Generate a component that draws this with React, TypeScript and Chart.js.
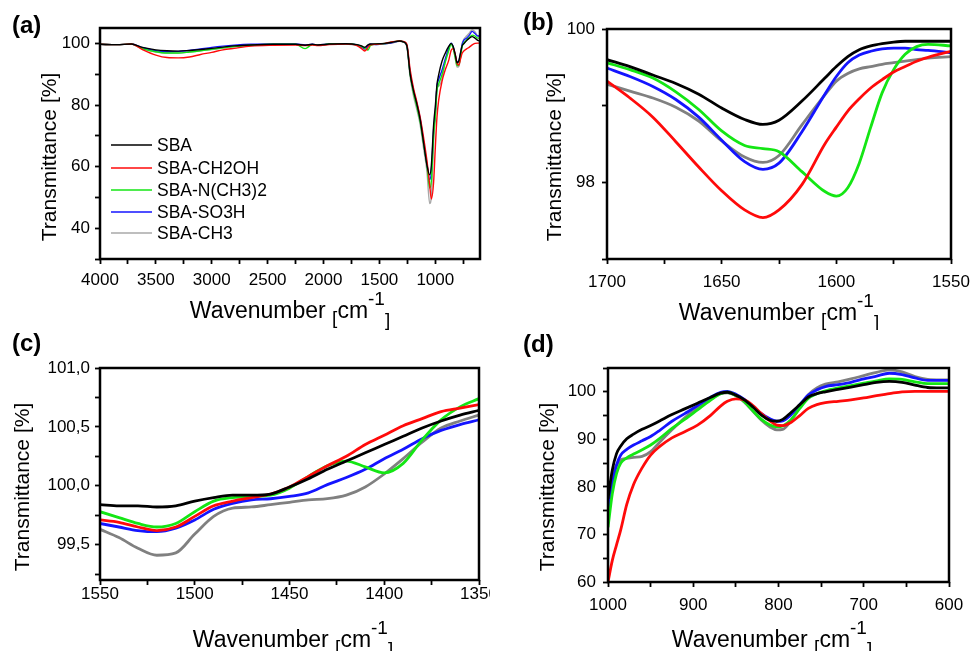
import React, { useEffect, useRef } from 'react';
import { Chart, registerables } from 'chart.js';

Chart.register(...registerables);

const FONT = '"Liberation Sans", Arial, Helvetica, sans-serif';

const SERIES = ['SBA', 'SBA-CH2OH', 'SBA-N(CH3)2', 'SBA-SO3H', 'SBA-CH3'];
const COLORS = ['#000000', '#ff0a0a', '#14e614', '#1414ff', '#808080'];
const COLORS_A = ['#000000', '#ff0a0a', '#14e614', '#1414ff', '#a8a8a8'];

// ---------- Panel (a): full spectrum ----------
const A_WAVENUMBER = [4000, 3850, 3720, 3620, 3500, 3400, 3300, 3200, 3100, 3000, 2900, 2800, 2650, 2450, 2250, 2165, 2100, 2050, 1950, 1800, 1700, 1660, 1632, 1615, 1602, 1580, 1530, 1450, 1380, 1320, 1285, 1255, 1225, 1195, 1165, 1135, 1105, 1075, 1050, 1035, 1015, 1000, 985, 970, 940, 910, 880, 858, 840, 822, 805, 790, 775, 760, 745, 720, 695, 670, 645, 620, 600];
const A_SBA = [99.7, 99.6, 99.8, 98.7, 97.9, 97.6, 97.5, 97.7, 98.0, 98.4, 98.8, 99.2, 99.5, 99.7, 99.7, 99.4, 99.7, 99.5, 99.8, 99.9, 99.6, 99.2, 98.75, 99.1, 99.5, 99.8, 99.85, 100.0, 100.4, 100.8, 100.5, 99.3, 90.0, 84.6, 80.3, 75.2, 67.8, 60.5, 57.3, 60.5, 73.6, 79.5, 86.6, 89.8, 94.2, 96.9, 99.0, 100.0, 99.0, 96.5, 93.7, 94.3, 96.8, 99.2, 99.9, 100.9, 101.7, 102.2, 101.7, 101.0, 100.8];
const A_CH2OH = [99.7, 99.6, 99.8, 98.0, 96.2, 95.4, 95.3, 95.6, 96.4, 97.1, 97.9, 98.4, 99.1, 99.4, 99.5, 99.3, 99.5, 99.3, 99.6, 99.8, 99.3, 98.3, 97.55, 98.0, 98.7, 99.5, 99.7, 100.0, 100.55, 100.8, 100.6, 99.8, 91.5, 85.5, 81.0, 76.0, 69.5, 62.0, 54.0, 49.5, 55.0, 66.0, 76.0, 81.5, 87.7, 91.5, 94.5, 97.8, 98.3, 96.5, 93.5, 93.0, 94.8, 96.8, 97.5, 98.2, 98.8, 99.5, 100.0, 100.1, 100.1];
const A_NCH32 = [99.7, 99.6, 99.8, 98.3, 97.3, 96.9, 96.9, 97.2, 97.6, 98.1, 98.6, 99.0, 99.4, 99.7, 99.7, 98.3, 99.6, 99.4, 99.8, 99.9, 99.5, 99.0, 98.45, 98.2, 97.82, 99.3, 99.8, 99.95, 100.5, 100.8, 100.5, 99.4, 90.0, 84.0, 79.5, 74.5, 67.5, 60.5, 53.0, 55.5, 70.0, 76.0, 84.5, 86.8, 89.8, 94.0, 97.6, 99.8, 98.4, 95.5, 92.8, 93.0, 95.5, 98.9, 100.1, 101.1, 101.9, 102.7, 102.4, 101.7, 101.7];
const A_SO3H = [99.7, 99.6, 99.8, 98.6, 97.6, 97.3, 97.4, 97.7, 98.2, 98.7, 99.1, 99.4, 99.7, 99.8, 99.8, 99.5, 99.7, 99.5, 99.8, 99.9, 99.5, 98.9, 98.17, 98.7, 99.3, 99.7, 99.65, 99.9, 100.3, 100.75, 100.5, 99.4, 90.5, 84.8, 80.5, 75.5, 68.3, 61.0, 55.8, 58.5, 72.0, 77.0, 86.0, 88.2, 91.3, 95.0, 98.5, 100.1, 98.9, 96.2, 94.0, 94.2, 96.5, 99.6, 101.0, 101.7, 102.7, 103.9, 103.2, 102.4, 102.4];
const A_CH3 = [99.7, 99.6, 99.8, 98.2, 97.2, 96.9, 96.9, 97.2, 97.6, 98.0, 98.5, 98.9, 99.3, 99.6, 99.7, 99.4, 99.6, 99.4, 99.7, 99.8, 99.3, 98.7, 98.25, 98.8, 99.1, 99.5, 99.6, 99.85, 100.2, 100.7, 100.5, 99.0, 89.0, 83.0, 78.5, 73.5, 66.0, 58.5, 48.0, 50.5, 68.0, 78.0, 85.6, 86.1, 88.5, 94.3, 98.3, 99.8, 98.5, 95.3, 92.3, 92.5, 95.3, 99.9, 101.3, 102.4, 103.4, 104.4, 103.8, 102.5, 102.5];
const A_X_TICKS = [4000, 3750, 3500, 3250, 3000, 2750, 2500, 2250, 2000, 1750, 1500, 1250, 1000, 750];
const A_X_LABELS = [4000, 3500, 3000, 2500, 2000, 1500, 1000];
const A_Y_TICKS = [30, 40, 50, 60, 70, 80, 90, 100];
const A_Y_LABELS = [40, 60, 80, 100];

// ---------- Panel (b): 1700-1550 ----------
const B_WAVENUMBER = [1700, 1690, 1680, 1670, 1660, 1650, 1640, 1632, 1625, 1615, 1605, 1600, 1595, 1590, 1585, 1580, 1575, 1570, 1565, 1560, 1550];
const B_SBA = [99.60, 99.51, 99.40, 99.29, 99.15, 98.97, 98.82, 98.755, 98.81, 99.06, 99.36, 99.51, 99.64, 99.73, 99.78, 99.81, 99.83, 99.84, 99.84, 99.84, 99.84];
const B_CH2OH = [99.32, 99.10, 98.85, 98.53, 98.20, 97.89, 97.64, 97.54, 97.64, 97.97, 98.50, 98.72, 98.93, 99.09, 99.23, 99.34, 99.44, 99.51, 99.58, 99.63, 99.71];
const B_NCH32 = [99.56, 99.47, 99.36, 99.18, 98.95, 98.67, 98.48, 98.44, 98.40, 98.14, 97.88, 97.82, 97.93, 98.25, 98.72, 99.17, 99.47, 99.67, 99.77, 99.80, 99.78];
const B_SO3H = [99.49, 99.38, 99.25, 99.08, 98.85, 98.55, 98.27, 98.17, 98.25, 98.66, 99.15, 99.38, 99.56, 99.66, 99.71, 99.74, 99.75, 99.75, 99.73, 99.72, 99.69];
const B_CH3 = [99.28, 99.19, 99.10, 98.98, 98.80, 98.54, 98.33, 98.26, 98.35, 98.75, 99.14, 99.32, 99.42, 99.48, 99.51, 99.54, 99.56, 99.58, 99.60, 99.62, 99.64];
const B_X_TICKS = [1700, 1675, 1650, 1625, 1600, 1575, 1550];
const B_X_LABELS = [1700, 1650, 1600, 1550];
const B_Y_TICKS = [97, 98, 99, 100];
const B_Y_LABELS = [98, 100];

// ---------- Panel (c): 1550-1350 ----------
const C_WAVENUMBER = [1550, 1540, 1530, 1520, 1510, 1500, 1490, 1480, 1470, 1460, 1450, 1440, 1430, 1420, 1410, 1400, 1390, 1380, 1370, 1360, 1350];
const C_SBA = [99.84, 99.83, 99.83, 99.82, 99.83, 99.87, 99.90, 99.92, 99.92, 99.93, 99.99, 100.06, 100.14, 100.21, 100.28, 100.35, 100.42, 100.49, 100.55, 100.60, 100.64];
const C_CH2OH = [99.71, 99.69, 99.65, 99.62, 99.65, 99.74, 99.83, 99.87, 99.90, 99.93, 99.99, 100.08, 100.17, 100.25, 100.35, 100.43, 100.51, 100.57, 100.63, 100.66, 100.69];
const C_NCH32 = [99.78, 99.73, 99.68, 99.65, 99.68, 99.78, 99.87, 99.90, 99.91, 99.92, 99.98, 100.08, 100.17, 100.21, 100.16, 100.11, 100.19, 100.39, 100.56, 100.67, 100.74];
const C_SO3H = [99.68, 99.65, 99.62, 99.61, 99.64, 99.71, 99.80, 99.85, 99.88, 99.89, 99.91, 99.94, 100.01, 100.07, 100.14, 100.23, 100.31, 100.40, 100.47, 100.52, 100.56];
const C_CH3 = [99.63, 99.56, 99.47, 99.41, 99.43, 99.59, 99.74, 99.81, 99.82, 99.84, 99.86, 99.88, 99.89, 99.92, 99.99, 100.10, 100.23, 100.37, 100.49, 100.55, 100.60];
const C_X_TICKS = [1550, 1525, 1500, 1475, 1450, 1425, 1400, 1375, 1350];
const C_X_LABELS = [1550, 1500, 1450, 1400, 1350];
const C_Y_TICKS = [99.25, 99.5, 99.75, 100, 100.25, 100.5, 100.75, 101];
const C_Y_LABELS = [99.5, 100, 100.5, 101];

// ---------- Panel (d): 1000-600 ----------
const D_WAVENUMBER = [1000, 995, 990, 985, 978, 970, 960, 950, 940, 925, 910, 895, 880, 868, 860, 850, 840, 830, 820, 810, 802, 795, 785, 775, 765, 755, 745, 730, 715, 700, 685, 670, 655, 640, 625, 610, 600];
const D_SBA = [77.5, 83.5, 87.0, 88.6, 90.1, 91.1, 92.1, 92.9, 93.8, 95.2, 96.4, 97.6, 98.8, 99.7, 99.9, 99.3, 98.3, 96.8, 95.1, 94.0, 93.8, 94.2, 95.7, 97.3, 98.9, 99.6, 100.0, 100.5, 101.0, 101.5, 102.0, 102.2, 102.0, 101.4, 100.9, 100.8, 100.8];
const D_CH2OH = [60.0, 64.5, 67.8, 71.0, 76.3, 80.5, 84.0, 86.7, 88.4, 90.3, 91.6, 93.0, 95.0, 97.0, 98.0, 98.5, 98.3, 97.1, 95.4, 93.9, 93.0, 92.9, 93.6, 95.0, 96.5, 97.3, 97.7, 98.0, 98.3, 98.7, 99.2, 99.6, 100.0, 100.1, 100.1, 100.1, 100.1];
const D_NCH32 = [71.5, 78.5, 82.8, 85.0, 86.1, 86.9, 87.8, 88.8, 90.1, 92.3, 94.2, 96.2, 98.2, 99.6, 99.9, 99.2, 97.9, 96.0, 94.2, 93.0, 92.6, 92.8, 94.2, 96.5, 98.6, 99.6, 100.2, 100.8, 101.3, 101.8, 102.3, 102.7, 102.6, 102.1, 101.7, 101.7, 101.7];
const D_SO3H = [73.5, 80.5, 84.6, 86.7, 87.9, 88.8, 89.7, 90.6, 91.8, 93.8, 95.4, 97.1, 98.8, 99.9, 100.1, 99.5, 98.4, 96.9, 95.4, 94.3, 93.8, 93.9, 95.2, 97.3, 99.3, 100.4, 101.1, 101.5, 102.0, 102.7, 103.3, 103.9, 103.6, 102.9, 102.4, 102.4, 102.4];
const D_CH3 = [77.5, 82.3, 84.5, 85.7, 86.0, 86.2, 86.4, 87.4, 89.3, 92.0, 94.5, 96.6, 98.4, 99.6, 99.8, 99.2, 97.8, 95.9, 94.0, 92.6, 92.0, 92.1, 94.0, 96.8, 99.4, 100.8, 101.6, 102.1, 102.7, 103.4, 104.1, 104.6, 104.2, 103.2, 102.6, 102.5, 102.5];
const D_X_TICKS = [1000, 950, 900, 850, 800, 750, 700, 650, 600];
const D_X_LABELS = [1000, 900, 800, 700, 600];
const D_Y_TICKS = [60, 65, 70, 75, 80, 85, 90, 95, 100, 105];
const D_Y_LABELS = [60, 70, 80, 90, 100];

type Spec = {
  id: string;
  label: string;
  left: number; top: number; boxW: number; canvasW: number; h: number;
  area: { l: number; r: number; t: number; b: number };
  xs: number[]; ys: number[][]; colors: string[]; lineW: number;
  xMin: number; xMax: number; yMin: number; yMax: number;
  xTicks: number[]; xLabels: number[]; yTicks: number[]; yLabels: number[];
  yFmt: (v: number) => string;
  xPad: number; yPad: number;
  labelPos: [number, number]; yTitlePos: [number, number]; xTitlePos: [number, number];
  legend?: boolean;
};

const intFmt = (v: number) => String(Math.round(v));
const commaFmt = (v: number) => v.toFixed(1).replace('.', ',');

const PANELS: Spec[] = [
  {
    id: 'a', label: '(a)', left: 0, top: 0, boxW: 490, canvasW: 490, h: 330,
    area: { l: 100, r: 480, t: 28, b: 259 },
    xs: A_WAVENUMBER, ys: [A_SBA, A_CH2OH, A_NCH32, A_SO3H, A_CH3], colors: COLORS_A, lineW: 1.4,
    xMin: 600, xMax: 4000, yMin: 30, yMax: 105,
    xTicks: A_X_TICKS, xLabels: A_X_LABELS, yTicks: A_Y_TICKS, yLabels: A_Y_LABELS, yFmt: intFmt,
    xPad: 6, yPad: 5,
    labelPos: [12, 33], yTitlePos: [56, 157], xTitlePos: [290, 318], legend: true,
  },
  {
    id: 'b', label: '(b)', left: 490, top: 0, boxW: 483, canvasW: 483, h: 330,
    area: { l: 117, r: 461, t: 29, b: 259 },
    xs: B_WAVENUMBER, ys: [B_SBA, B_CH2OH, B_NCH32, B_SO3H, B_CH3], colors: COLORS, lineW: 2.8,
    xMin: 1550, xMax: 1700, yMin: 97, yMax: 100,
    xTicks: B_X_TICKS, xLabels: B_X_LABELS, yTicks: B_Y_TICKS, yLabels: B_Y_LABELS, yFmt: intFmt,
    xPad: 8, yPad: 7,
    labelPos: [33, 30], yTitlePos: [71, 157], xTitlePos: [289, 320],
  },
  {
    id: 'c', label: '(c)', left: 0, top: 330, boxW: 490, canvasW: 520, h: 321,
    area: { l: 100, r: 479, t: 38, b: 250 },
    xs: C_WAVENUMBER, ys: [C_SBA, C_CH2OH, C_NCH32, C_SO3H, C_CH3], colors: COLORS, lineW: 2.8,
    xMin: 1350, xMax: 1550, yMin: 99.2, yMax: 101,
    xTicks: C_X_TICKS, xLabels: C_X_LABELS, yTicks: C_Y_TICKS, yLabels: C_Y_LABELS, yFmt: commaFmt,
    xPad: -1, yPad: 5,
    labelPos: [12, 21], yTitlePos: [29, 157], xTitlePos: [293, 317],
  },
  {
    id: 'd', label: '(d)', left: 490, top: 330, boxW: 483, canvasW: 483, h: 321,
    area: { l: 118, r: 459, t: 38, b: 252 },
    xs: D_WAVENUMBER, ys: [D_SBA, D_CH2OH, D_NCH32, D_SO3H, D_CH3], colors: COLORS, lineW: 2.8,
    xMin: 600, xMax: 1000, yMin: 60, yMax: 105,
    xTicks: D_X_TICKS, xLabels: D_X_LABELS, yTicks: D_Y_TICKS, yLabels: D_Y_LABELS, yFmt: intFmt,
    xPad: 8, yPad: 7,
    labelPos: [33, 22], yTitlePos: [64, 157], xTitlePos: [282, 317],
  },
];

const has = (arr: number[], v: number) => arr.some((a) => Math.abs(a - v) < 1e-6);

function drawXTitle(ctx: CanvasRenderingContext2D, cx: number, by: number) {
  const pieces = [
    { t: 'Wavenumber ', f: 23, dy: 0 },
    { t: '[', f: 19, dy: 6 },
    { t: 'cm', f: 23, dy: 0 },
    { t: '-1', f: 19, dy: -13 },
    { t: ']', f: 19, dy: 8 },
  ];
  let total = 0;
  const widths = pieces.map((p) => {
    ctx.font = `${p.f}px ${FONT}`;
    const w = ctx.measureText(p.t).width;
    total += w;
    return w;
  });
  let x = cx - total / 2;
  ctx.textAlign = 'left';
  ctx.textBaseline = 'alphabetic';
  pieces.forEach((p, i) => {
    ctx.font = `${p.f}px ${FONT}`;
    ctx.fillText(p.t, x, by + p.dy);
    x += widths[i];
  });
}

function makePlugin(s: Spec) {
  return {
    id: 'panelDecor' + s.id,
    afterDraw(chart: any) {
      const ctx: CanvasRenderingContext2D = chart.ctx;
      const a = chart.chartArea;
      ctx.save();
      ctx.strokeStyle = '#000';
      ctx.lineWidth = 2.5;
      ctx.strokeRect(a.left, a.top, a.right - a.left, a.bottom - a.top);
      ctx.fillStyle = '#000';
      ctx.font = `bold 24px ${FONT}`;
      ctx.textAlign = 'left';
      ctx.textBaseline = 'alphabetic';
      ctx.fillText(s.label, s.labelPos[0], s.labelPos[1]);
      ctx.save();
      ctx.translate(s.yTitlePos[0], s.yTitlePos[1]);
      ctx.rotate(-Math.PI / 2);
      ctx.font = `21px ${FONT}`;
      ctx.textAlign = 'center';
      ctx.fillText('Transmittance [%]', 0, 0);
      ctx.restore();
      drawXTitle(ctx, s.xTitlePos[0], s.xTitlePos[1]);
      if (s.legend) {
        const rows = [145, 168, 190, 212, 233];
        SERIES.forEach((name, i) => {
          ctx.strokeStyle = s.colors[i];
          ctx.lineWidth = 1.5;
          ctx.beginPath();
          ctx.moveTo(111, rows[i]);
          ctx.lineTo(152, rows[i]);
          ctx.stroke();
          ctx.fillStyle = '#000';
          ctx.font = `17.5px ${FONT}`;
          ctx.textAlign = 'left';
          ctx.textBaseline = 'middle';
          ctx.fillText(name, 157, rows[i] + 1);
        });
      }
      ctx.restore();
    },
  };
}

function buildConfig(s: Spec): any {
  const tickFont = { family: FONT, size: 17 };
  return {
    type: 'line',
    data: {
      datasets: SERIES.map((name, i) => ({
        label: name,
        data: s.xs.map((x, j) => ({ x, y: s.ys[i][j] })),
        borderColor: s.colors[i],
        backgroundColor: s.colors[i],
        borderWidth: s.lineW,
        pointRadius: 0,
        fill: false,
        cubicInterpolationMode: 'monotone',
      })),
    },
    options: {
      animation: false,
      responsive: false,
      maintainAspectRatio: false,
      devicePixelRatio: 1,
      events: [],
      layout: { padding: { left: 0, top: s.area.t, right: s.canvasW - s.area.r, bottom: 0 } },
      plugins: { legend: { display: false }, tooltip: { enabled: false }, title: { display: false } },
      scales: {
        x: {
          type: 'linear',
          reverse: true,
          min: s.xMin,
          max: s.xMax,
          afterBuildTicks: (sc: any) => { sc.ticks = s.xTicks.map((v) => ({ value: v })); },
          afterFit: (sc: any) => { sc.height = s.h - s.area.b; sc.paddingLeft = 0; sc.paddingRight = 0; },
          ticks: {
            autoSkip: false, maxRotation: 0, minRotation: 0, color: '#000', font: tickFont, padding: s.xPad,
            callback: (v: number) => (has(s.xLabels, v) ? String(v) : ''),
          },
          grid: { drawOnChartArea: false, drawTicks: true, tickLength: 5, tickWidth: 1.8, tickColor: '#000' },
          border: { display: false },
        },
        y: {
          type: 'linear',
          min: s.yMin,
          max: s.yMax,
          afterBuildTicks: (sc: any) => { sc.ticks = s.yTicks.map((v) => ({ value: v })); },
          afterFit: (sc: any) => { sc.width = s.area.l; sc.paddingTop = 0; sc.paddingBottom = 0; },
          ticks: {
            autoSkip: false, color: '#000', font: tickFont, padding: s.yPad,
            callback: (v: number) => (has(s.yLabels, v) ? s.yFmt(v) : ''),
          },
          grid: { drawOnChartArea: false, drawTicks: true, tickLength: 5, tickWidth: 1.8, tickColor: '#000' },
          border: { display: false },
        },
      },
    },
    plugins: [makePlugin(s)],
  };
}

function Panel({ spec }: { spec: Spec }) {
  const ref = useRef<HTMLCanvasElement>(null);
  useEffect(() => {
    if (!ref.current) return;
    const chart = new Chart(ref.current, buildConfig(spec));
    return () => chart.destroy();
  }, [spec]);
  return (
    <div style={{ position: 'absolute', left: spec.left, top: spec.top, width: spec.boxW, height: spec.h, overflow: 'hidden' }}>
      <canvas ref={ref} width={spec.canvasW} height={spec.h} style={{ display: 'block', width: spec.canvasW, height: spec.h }} />
    </div>
  );
}

export default function App() {
  return (
    <div style={{ position: 'absolute', left: 0, top: 0, width: 973, height: 651, background: '#ffffff', overflow: 'hidden' }}>
      {PANELS.map((p) => (
        <Panel key={p.id} spec={p} />
      ))}
    </div>
  );
}
